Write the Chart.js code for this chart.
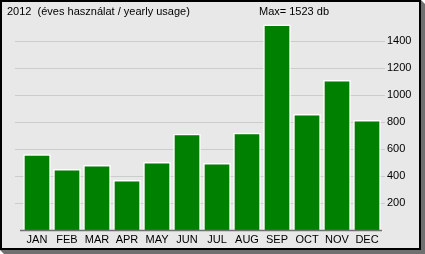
<!DOCTYPE html>
<html>
<head>
<meta charset="utf-8">
<script src="https://cdn.jsdelivr.net/npm/chart.js@4/dist/chart.umd.min.js"></script>
<style>
  body { margin: 0; background: #fff; }
  #wrap { width: 425px; height: 254px; }
</style>
</head>
<body>
<div id="wrap"><canvas id="myChart" width="425" height="254"></canvas></div>
<script>
const months = ["JAN", "FEB", "MAR", "APR", "MAY", "JUN", "JUL", "AUG", "SEP", "OCT", "NOV", "DEC"];
const usage = [562, 452, 481, 370, 504, 713, 496, 720, 1523, 859, 1111, 815];
const yTicks = [200, 400, 600, 800, 1000, 1200, 1400];
const titleText = "2012  (éves használat / yearly usage)";

const FONT = "'Liberation Sans', Arial, sans-serif";
const FSIZE = 11;

// frame, shadow, grid lines and header texts
const framePlugin = {
  id: "frame",
  beforeDraw(chart) {
    const ctx = chart.ctx;
    ctx.save();
    ctx.fillStyle = "#ffffff";
    ctx.fillRect(0, 0, 425, 254);
    ctx.fillStyle = "#707070";
    ctx.beginPath();
    ctx.moveTo(421, 0);
    ctx.lineTo(425, 4);
    ctx.lineTo(425, 254);
    ctx.lineTo(4, 254);
    ctx.lineTo(0, 250);
    ctx.closePath();
    ctx.fill();
    ctx.fillStyle = "#e8e8e8";
    ctx.fillRect(0, 0, 421, 250);
    ctx.strokeStyle = "#000";
    ctx.lineWidth = 2;
    ctx.strokeRect(1, 1, 419, 248);

    const y = chart.scales.y;
    ctx.strokeStyle = "#cccccc";
    ctx.lineWidth = 1;
    yTicks.forEach((v) => {
      const py = Math.round(y.getPixelForValue(v)) + 0.5;
      ctx.beginPath();
      ctx.moveTo(15, py);
      ctx.lineTo(385, py);
      ctx.stroke();
    });

    ctx.fillStyle = "#000";
    ctx.font = FSIZE + "px " + FONT;
    ctx.textBaseline = "middle";
    ctx.textAlign = "left";
    ctx.fillText(titleText, 7, 12);
    ctx.textAlign = "center";
    ctx.fillText("Max= " + Math.max(...usage) + " db", 294, 12);
    ctx.restore();
  },
  afterDatasetsDraw(chart) {
    const ctx = chart.ctx;
    const y = chart.scales.y;
    const py = Math.round(y.getPixelForValue(0)) + 0.5;
    ctx.save();
    ctx.strokeStyle = "#707070";
    ctx.lineWidth = 1.5;
    ctx.beginPath();
    ctx.moveTo(20, py);
    ctx.lineTo(382, py);
    ctx.stroke();
    ctx.restore();
  }
};

var ctx = document.getElementById("myChart").getContext("2d");
var myChart = new Chart(ctx, {
  type: "bar",
  data: {
    labels: months,
    datasets: [
      {
        data: usage,
        backgroundColor: "#008000",
        borderColor: "#ffffff",
        borderWidth: 1.5,
        categoryPercentage: 1,
        barPercentage: 0.92,
      },
    ],
  },
  options: {
    responsive: false,
    animation: false,
    layout: { padding: { left: 22, right: 0, top: 14, bottom: 0 } },
    plugins: {
      legend: { display: false },
      tooltip: { enabled: false },
    },
    scales: {
      x: {
        grid: { display: false, drawTicks: false },
        border: { display: false },
        ticks: {
          color: "#000",
          font: { family: FONT, size: FSIZE },
          padding: 3,
          maxRotation: 0,
          autoSkip: false,
        },
        afterFit(scale) { scale.height = 24; },
      },
      y: {
        position: "right",
        min: 0,
        max: 1600,
        grid: { display: false, drawTicks: false },
        border: { display: false },
        afterBuildTicks(scale) {
          scale.ticks = yTicks.map((v) => ({ value: v }));
        },
        ticks: {
          color: "#000",
          font: { family: FONT, size: FSIZE },
          padding: 5,
          callback: (v) => v,
        },
        afterFit(scale) { scale.width = 43; },
      },
    },
  },
  plugins: [framePlugin],
});
</script>
</body>
</html>
